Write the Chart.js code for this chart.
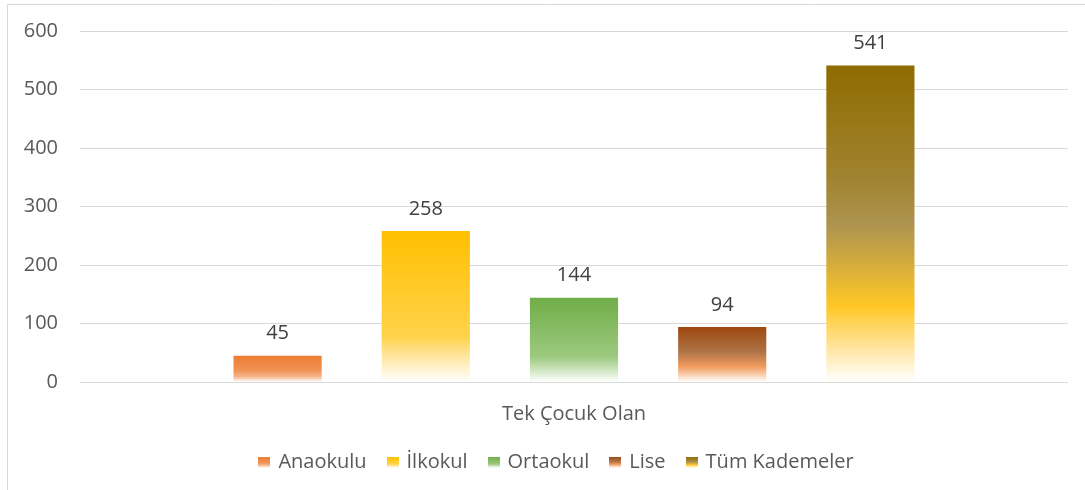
<!DOCTYPE html>
<html>
<head>
<meta charset="utf-8">
<script src="https://cdn.jsdelivr.net/npm/chart.js@4.4.0/dist/chart.umd.min.js"></script>
<style>
  html, body { margin: 0; padding: 0; background: #fff; }
  #wrap { width: 1085px; height: 490px; position: relative; }
</style>
</head>
<body>
<div id="wrap"><canvas id="chart" width="1085" height="490"></canvas></div>
<script>
// data
const categories = ['Tek Çocuk Olan'];
const seriesNames = ['Anaokulu', 'İlkokul', 'Ortaokul', 'Lise', 'Tüm Kademeler'];
const seriesValues = [[45], [258], [144], [94], [541]];
const yTicks = [0, 100, 200, 300, 400, 500, 600];

// gradient stops per series, top of bar -> bottom of bar
const gradientStops = [
    [[0, '#ED7D31'], [0.55, '#F09256'], [0.8, '#F5B68C'], [1, '#FFFFFF']],
    [[0, '#FFC000'], [0.7, '#FFD24A'], [0.82, '#FFE49A'], [1, '#FFFFFF']],
    [[0, '#70AD47'], [0.7, '#9CC97F'], [0.83, '#C6E0B4'], [1, '#FFFFFF']],
    [[0, '#9E480E'], [0.45, '#AE7448'], [0.72, '#F29B5E'], [0.85, '#F8C9A6'], [1, '#FFFFFF']],
    [[0, '#8F6B00'], [0.35, '#A0832F'], [0.5, '#AC9350'], [0.76, '#FFC726'], [0.9, '#FFE7A6'], [1, '#FFFFFF']]
];

const FONT = "'Open Sans', sans-serif";
const FONT_SIZE = 20;

const makeGradient = function (ctx, top, bottom, stops) {
    const g = ctx.createLinearGradient(0, top, 0, bottom);
    stops.forEach(s => g.addColorStop(s[0], s[1]));
    return g;
};

const legendIcon = function (stops) {
    const c = document.createElement('canvas');
    c.width = 12;
    c.height = 11;
    const cx = c.getContext('2d');
    cx.fillStyle = makeGradient(cx, 0, 11, stops);
    cx.fillRect(0, 0, 12, 11);
    return c;
};
const legendIcons = gradientStops.map(legendIcon);

const barFill = function (i) {
    return function (context) {
        const chart = context.chart;
        const y = chart.scales.y;
        if (!y || context.raw === undefined) return gradientStops[i][0][1];
        const top = y.getPixelForValue(context.raw);
        const bottom = y.getPixelForValue(0);
        if (!isFinite(top) || !isFinite(bottom) || top === bottom) return gradientStops[i][0][1];
        return makeGradient(chart.ctx, top, bottom, gradientStops[i]);
    };
};

const frame = {
    id: 'frame',
    beforeDraw(chart) {
        const ctx = chart.ctx;
        ctx.save();
        ctx.strokeStyle = '#D9D9D9';
        ctx.lineWidth = 1;
        ctx.beginPath();
        ctx.moveTo(7.5, 490);
        ctx.lineTo(7.5, 4.5);
        ctx.lineTo(1085, 4.5);
        ctx.stroke();
        ctx.restore();
    }
};

// legend sits a bit right of the canvas centre in the original
const legendShift = {
    id: 'legendShift',
    afterLayout(chart) {
        chart.legend.left += 23;
        chart.legend.right += 23;
    }
};

const valueLabels = {
    id: 'valueLabels',
    afterDatasetsDraw(chart) {
        const ctx = chart.ctx;
        ctx.save();
        ctx.font = FONT_SIZE + 'px ' + FONT;
        ctx.fillStyle = '#404040';
        ctx.textAlign = 'center';
        ctx.textBaseline = 'middle';
        chart.data.datasets.forEach((ds, i) => {
            chart.getDatasetMeta(i).data.forEach((bar, j) => {
                ctx.fillText(ds.data[j], bar.x, bar.y - 22);
            });
        });
        ctx.restore();
    }
};

const datasets = seriesNames.map((name, i) => ({
    label: name,
    data: seriesValues[i],
    backgroundColor: barFill(i),
    borderWidth: 0,
    categoryPercentage: 0.75,
    barPercentage: 0.595
}));

new Chart('chart', {
    type: 'bar',
    data: { labels: categories, datasets: datasets },
    options: {
        responsive: false,
        animation: false,
        layout: { padding: { left: 0, right: 17, top: 31, bottom: 8 } },
        plugins: {
            tooltip: { enabled: false },
            legend: {
                position: 'bottom',
                labels: {
                    font: { family: FONT, size: FONT_SIZE },
                    color: '#595959',
                    usePointStyle: true,
                    pointStyleWidth: 8,
                    padding: 22,
                    generateLabels: function (chart) {
                        return chart.data.datasets.map((ds, i) => ({
                            text: ds.label,
                            pointStyle: legendIcons[i],
                            fillStyle: gradientStops[i][0][1],
                            strokeStyle: 'transparent',
                            lineWidth: 0,
                            fontColor: '#595959',
                            datasetIndex: i,
                            hidden: false
                        }));
                    }
                }
            }
        },
        scales: {
            x: {
                grid: { display: false },
                border: { display: false },
                ticks: { font: { family: FONT, size: FONT_SIZE }, color: '#595959', padding: 12 },
                afterFit: function (scale) { scale.height = 48; }
            },
            y: {
                min: 0,
                max: 600,
                afterBuildTicks: function (scale) { scale.ticks = yTicks.map(v => ({ value: v })); },
                grid: { color: '#D9D9D9', drawTicks: false },
                border: { display: false },
                ticks: { font: { family: FONT, size: FONT_SIZE }, color: '#595959', padding: 22 },
                afterFit: function (scale) {
                    scale.width = 80;
                    scale.paddingTop = 0;
                    scale.paddingBottom = 0;
                }
            }
        }
    },
    plugins: [frame, legendShift, valueLabels]
});
</script>
</body>
</html>
